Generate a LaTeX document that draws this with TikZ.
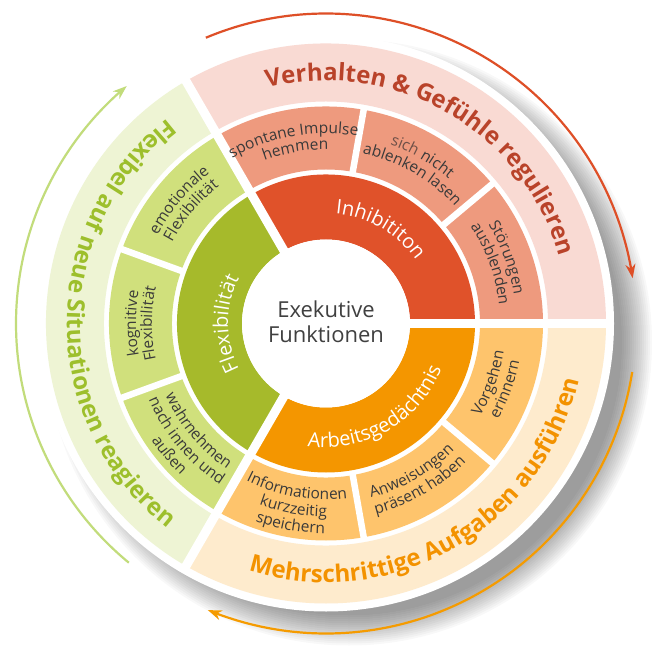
\documentclass[tikz,border=0pt]{standalone}
\usepackage{fontspec}
\setmainfont{Open Sans}
\usepackage{xcolor}
\usetikzlibrary{arrows.meta, decorations.text, bending}

\definecolor{inhibdark}{HTML}{E0522A}
\definecolor{inhibmid}{HTML}{EE9A7E}
\definecolor{inhibout}{HTML}{F9DAD3}
\definecolor{flexdark}{HTML}{A6BA2B}
\definecolor{flexmid}{HTML}{D0E07C}
\definecolor{flexout}{HTML}{EEF4D4}
\definecolor{arbdark}{HTML}{F49600}
\definecolor{arbmid}{HTML}{FEC46C}
\definecolor{arbout}{HTML}{FEEBCD}
\definecolor{titlered}{HTML}{B9432A}
\definecolor{titlegreen}{HTML}{9DBF2C}
\definecolor{titleorange}{HTML}{F39200}
\definecolor{arrowred}{HTML}{DE4F27}
\definecolor{arroworange}{HTML}{F59B00}
\definecolor{arrowgreen}{HTML}{C2DC7B}
\definecolor{labelgray}{HTML}{3A3A3A}
\definecolor{sichgray}{HTML}{6E5048}
\definecolor{centergray}{HTML}{404040}

\tikzset{
  sublabel/.style={decorate, decoration={text along path, text align=center,
      text color=labelgray, text={|\fontsize{15.5}{17}\selectfont|#1}}},
  mainlabel/.style={decorate, decoration={text along path, text align=center,
      text color=white, text={|\fontsize{20}{24}\selectfont|#1}}},
  titlelabel/.style 2 args={decorate, decoration={text along path, text align=center,
      text color=#1, text={|\fontsize{24}{28}\selectfont\bfseries|#2}}},
  cyclearrow/.style={line width=2.2pt, #1, -{Stealth[length=14pt, width=10pt]}},
}

\begin{document}
\begin{tikzpicture}[x=1pt, y=1pt]
  % Canvas
  \fill[white] (-326,-328.5) rectangle (326,323.5);
  \useasboundingbox (-326,-328.5) rectangle (326,323.5);
  % Drop shadow
  \foreach \r in {273,275,...,303}
    \fill[black, opacity=0.028] (23,-19) circle (\r);
  % White disk
  \fill[white] (0,0) circle (288);
  % Outer band
  \foreach \a/\col in {0/inhibout, 120/flexout, 240/arbout}
    \fill[\col] (\a:222) arc[start angle=\a, end angle=\a+120, radius=222]
      -- ({\a+120}:280) arc[start angle=\a+120, end angle=\a, radius=280] -- cycle;
  % Middle ring
  \foreach \a/\col in {0/inhibmid, 120/flexmid, 240/arbmid}
    \fill[\col] (\a:154) arc[start angle=\a, end angle=\a+120, radius=154]
      -- ({\a+120}:217) arc[start angle=\a+120, end angle=\a, radius=217] -- cycle;
  % Inner ring
  \foreach \a/\col in {0/inhibdark, 120/flexdark, 240/arbdark}
    \fill[\col] (\a:84) arc[start angle=\a, end angle=\a+120, radius=84]
      -- ({\a+120}:149) arc[start angle=\a+120, end angle=\a, radius=149] -- cycle;
  % Gaps
  \foreach \a in {0,120,240}
    \draw[white, line width=9pt] (0,0) -- (\a:284);
  \foreach \a in {40,80,160,200,280,320}
    \draw[white, line width=6.5pt] (\a:150) -- (\a:220);
  % Centre
  \fill[white] (0,0) circle (84);
  \node[font=\fontsize{22}{25}\selectfont, text=centergray, align=center] (centre) at (0,1.3) {Exekutive\\Funktionen};
  % Inner labels
  \path[mainlabel=Inhibititon] (120:110) arc[start angle=120, end angle=0, radius=110];
  \path[mainlabel=Flexibilität] (240:98) arc[start angle=240, end angle=120, radius=98];
  \path[mainlabel=Arbeitsgedächtnis] (240:124) arc[start angle=240, end angle=360, radius=124];
  % Middle labels, inhibition
  \path[sublabel=spontane Impulse] (130:190) arc[start angle=130, end angle=70, radius=190];
  \path[sublabel=hemmen] (130:174) arc[start angle=130, end angle=70, radius=174];
  \path[decorate, decoration={text along path, text align=center, text color=labelgray,
      text={|\fontsize{15.5}{17}\selectfont\color{sichgray}|sich |\fontsize{15.5}{17}\selectfont\color{labelgray}|nicht}}]
    (90:190) arc[start angle=90, end angle=30, radius=190];
  \path[sublabel=ablenken lasen] (90:174) arc[start angle=90, end angle=30, radius=174];
  \path[sublabel=Störungen] (50:190) arc[start angle=50, end angle=-10, radius=190];
  \path[sublabel=ausblenden] (50:174) arc[start angle=50, end angle=-10, radius=174];
  % Middle labels, flexibility
  \path[sublabel=emotionale] (170:190) arc[start angle=170, end angle=110, radius=190];
  \path[sublabel=Flexibilität] (170:174) arc[start angle=170, end angle=110, radius=174];
  \path[sublabel=kognitive] (210:190) arc[start angle=210, end angle=150, radius=190];
  \path[sublabel=Flexibilität] (210:174) arc[start angle=210, end angle=150, radius=174];
  \path[sublabel=wahrnehmen] (190:176) arc[start angle=190, end angle=250, radius=176];
  \path[sublabel=nach innen und] (190:193) arc[start angle=190, end angle=250, radius=193];
  \path[sublabel=außen] (190:210) arc[start angle=190, end angle=250, radius=210];
  % Middle labels, working memory
  \path[sublabel=Informationen] (230:176) arc[start angle=230, end angle=290, radius=176];
  \path[sublabel=kurzzeitig] (230:193) arc[start angle=230, end angle=290, radius=193];
  \path[sublabel=speichern] (230:210) arc[start angle=230, end angle=290, radius=210];
  \path[sublabel=Anweisungen] (270:180) arc[start angle=270, end angle=330, radius=180];
  \path[sublabel=präsent haben] (270:197) arc[start angle=270, end angle=330, radius=197];
  \path[sublabel=Vorgehen] (310:180) arc[start angle=310, end angle=370, radius=180];
  \path[sublabel=erinnern] (310:197) arc[start angle=310, end angle=370, radius=197];
  % Outer titles
  \path[titlelabel={titlered}{Verhalten {\&} Gefühle regulieren}] (120:243) arc[start angle=120, end angle=0, radius=243];
  \path[titlelabel={titlegreen}{Flexibel auf neue Situationen reagieren}] (120:259) arc[start angle=120, end angle=240, radius=259];
  \path[titlelabel={titleorange}{Mehrschrittige Aufgaben ausführen}] (240:259) arc[start angle=240, end angle=360, radius=259];
  % Cycle arrows
  \draw[cyclearrow=arrowred] (112.8:310) arc[start angle=112.8, end angle=8.4, radius=310];
  \draw[cyclearrow=arroworange] (-9:310) arc[start angle=-9, end angle=-112.4, radius=310];
  \draw[cyclearrow=arrowgreen] (230.5:310) arc[start angle=230.5, end angle=130, radius=310];
\end{tikzpicture}
\end{document}
